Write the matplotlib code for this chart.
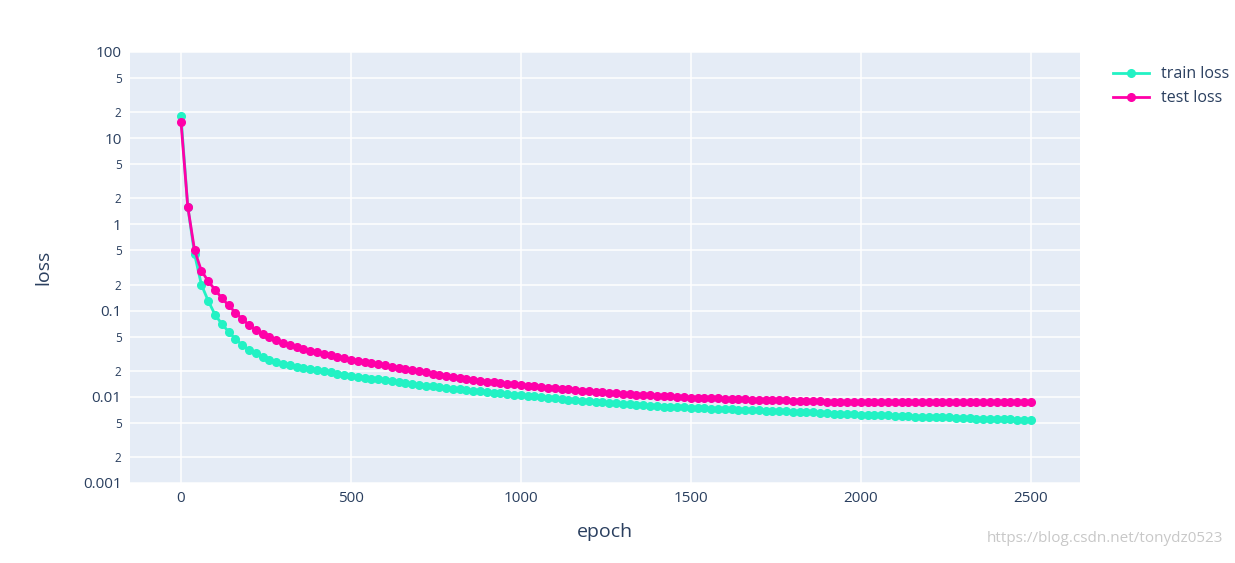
import matplotlib
matplotlib.use("Agg")
import matplotlib.pyplot as plt
from matplotlib.ticker import FixedLocator, NullFormatter

plt.rcParams['font.family'] = ['Open Sans', 'DejaVu Sans']

epochs = list(range(0, 2501, 20))
train_loss = [18, 1.6, 0.45, 0.2, 0.13, 0.09, 0.07, 0.057, 0.047, 0.04, 0.035, 0.032, 0.029, 0.027, 0.0255, 0.024, 0.0232, 0.0224, 0.0217, 0.021, 0.0204, 0.0198, 0.0192, 0.0186, 0.0181, 0.0176,
    0.0171,0.0167,0.0163,0.0159,0.0155,0.0151,0.0147,0.0144,0.0141,0.0138,0.0135,0.0132,0.0129,0.0126,0.0124,0.0122,0.012,0.0118,0.0116,0.0114,0.0112,0.011,0.0108,0.0106,0.0104,
    0.0102,0.0101,0.0099,0.0097,0.0096,0.0094,0.0093,0.0091,0.009,0.0089,0.0087,0.0086,0.0085,0.0084,0.0083,0.0082,0.0081,0.008,0.0079,0.0078,0.0077,0.0077,0.0076,0.0076,0.0075,
    0.0074,0.0074,0.0073,0.0073,0.0072,0.0072,0.0071,0.0071,0.007,0.007,0.0069,0.0069,0.0068,0.0068,0.0067,0.0067,0.0066,0.0066,0.0065,0.0065,0.0064,0.0064,0.0063,0.0063,0.0062,
    0.0062,0.0061,0.0061,0.0061,0.006,0.006,0.006,0.0059,0.0059,0.0059,0.0058,0.0058,0.0058,0.0057,0.0057,0.0057,0.0056,0.0056,0.0056,0.0055,0.0055,0.0055,0.0054,0.0054,0.0054]
test_loss = [15.5, 1.6, 0.5, 0.29, 0.22, 0.175, 0.14, 0.115, 0.095, 0.08, 0.068, 0.06, 0.053, 0.049, 0.045, 0.042, 0.04, 0.038, 0.036, 0.034, 0.033, 0.0315, 0.0302, 0.029, 0.028, 0.027,
    0.0262,0.0254,0.0246,0.0238,0.0231,0.0224,0.0217,0.021,0.0204,0.0198,0.0192,0.0186,0.0181,0.0176,0.0171,0.0166,0.0162,0.0158,0.0154,0.015,0.0147,0.0144,0.0141,0.0139,0.0137,
    0.0134,0.0132,0.013,0.0128,0.0126,0.0124,0.0122,0.012,0.0118,0.0116,0.0114,0.0113,0.0111,0.011,0.0109,0.0107,0.0106,0.0105,0.0104,0.0103,0.0102,0.0101,0.01,0.0099,0.0098,
    0.0097,0.0097,0.0096,0.0096,0.0095,0.0095,0.0094,0.0094,0.0093,0.0093,0.0092,0.0092,0.0091,0.0091,0.009,0.009,0.0089,0.0089,0.0089,0.0088,0.0088,0.0088,0.0087,0.0087,0.0087,
    0.0087,0.0086,0.0086,0.0086,0.0086,0.0086,0.0086,0.0086,0.0086,0.0086,0.0086,0.0086,0.0086,0.0086,0.0086,0.0086,0.0087,0.0087,0.0087,0.0087,0.0087,0.0087,0.0087,0.0087,0.0087]

major_ticks = [0.001, 0.01, 0.1, 1, 10, 100]
major_labels = ["0.001", "0.01", "0.1", "1", "10", "100"]
x_ticks = [0, 500, 1000, 1500, 2000, 2500]

fig = plt.figure(figsize=(12.35, 5.63), dpi=100)
ax = fig.add_axes([130/1235, 80/563, 950/1235, 431/563])
ax.set_facecolor('#e5ecf6')
for s in ax.spines.values():
    s.set_visible(False)

ax.plot(epochs, train_loss, '-o', color='#22f2c4', ms=5.5, lw=2, label='train loss', zorder=3)
ax.plot(epochs, test_loss, '-o', color='#ff00a8', ms=5.5, lw=2, label='test loss', zorder=4)

ax.set_yscale('log')
ax.set_ylim(0.001, 100)
ax.set_xlim(-150, 2645)
ax.set_yticks(major_ticks)
ax.set_yticklabels(major_labels, fontsize=11, color='#2a3f5f')
minor = [m * 10**e for e in range(-3, 2) for m in (2, 5)]
ax.yaxis.set_minor_locator(FixedLocator(minor))
ax.set_yticklabels([("2" if str(v).lstrip('0.').startswith('2') else "5") for v in minor], minor=True, fontsize=8.5, color='#2a3f5f')
ax.set_xticks(x_ticks)
ax.set_xticklabels([str(v) for v in x_ticks], fontsize=11, color='#2a3f5f')
ax.tick_params(which='both', length=0, pad=6)
ax.grid(True, which='both', color='white', lw=1.1)
ax.set_axisbelow(True)
ax.set_xlabel('epoch', fontsize=14, color='#2a3f5f', labelpad=12)
ax.set_ylabel('loss', fontsize=14, color='#2a3f5f', labelpad=22)

leg = ax.legend(loc='upper left', bbox_to_anchor=(1.02, 1.0), frameon=False, fontsize=11.5, handlelength=2.2, labelspacing=0.5)
for t in leg.get_texts():
    t.set_color('#2a3f5f')

fig.text(0.99, 0.03, 'https://blog.csdn.net/tonydz0523', ha='right', va='bottom', fontsize=11, color='#c8c8c8')
fig.savefig('out.png', dpi=100)
